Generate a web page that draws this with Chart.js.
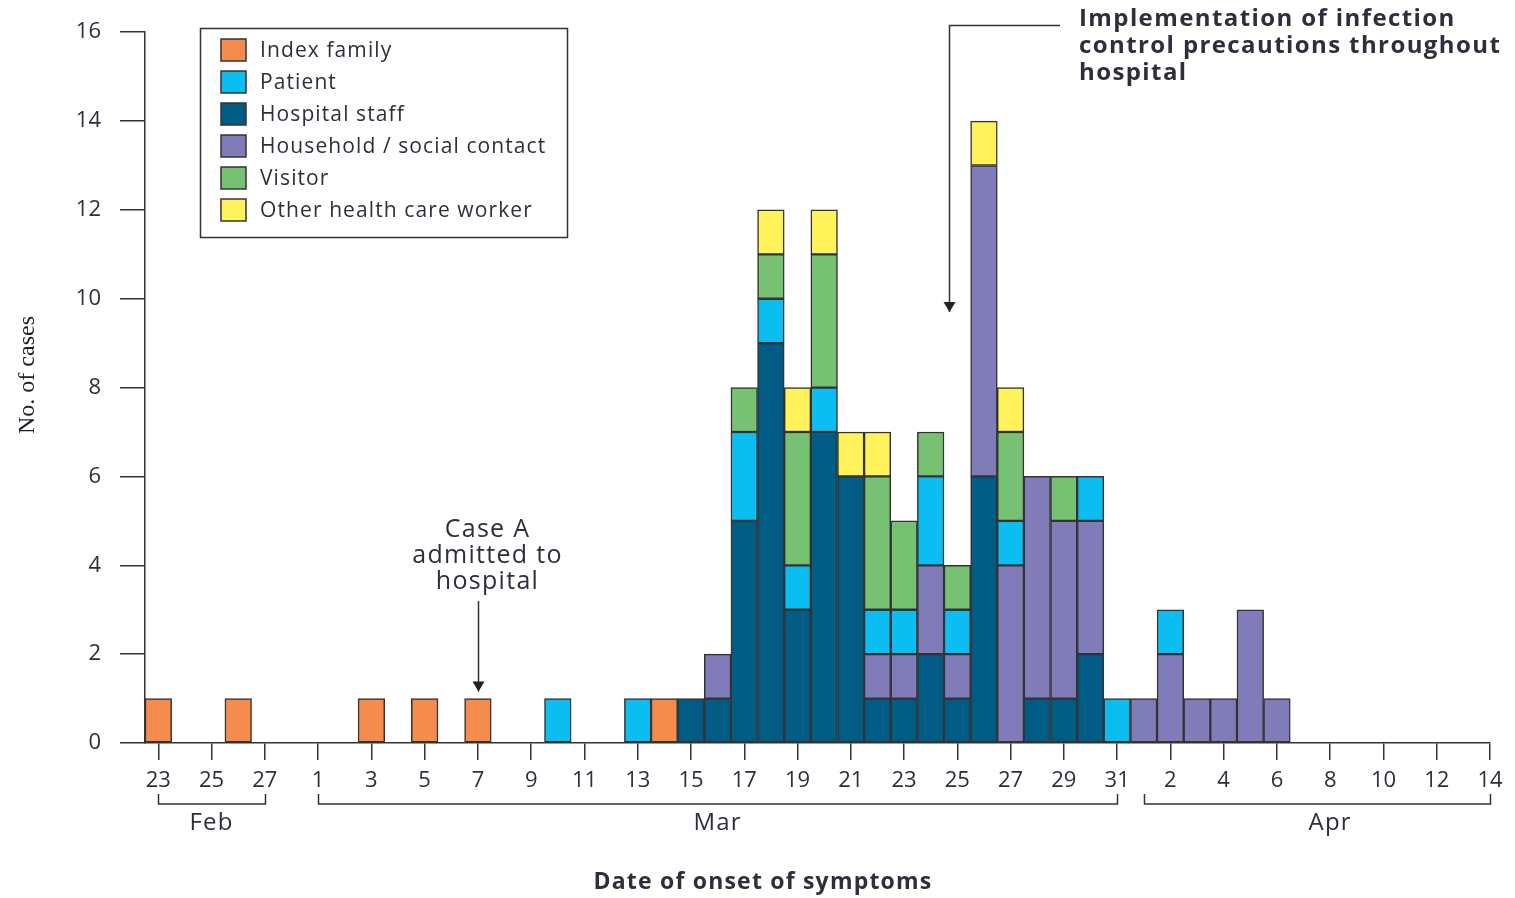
<!DOCTYPE html>
<html>
<head>
<meta charset="utf-8">
<script src="https://cdn.jsdelivr.net/npm/chart.js@4.4.0/dist/chart.umd.min.js"></script>
<style>
  html, body { margin: 0; padding: 0; background: #fff; }
</style>
</head>
<body>
<canvas id="epiCurve" width="1515" height="898"></canvas>
<script>
// one entry per day, Feb 23 .. Apr 14 (index 0 = Feb 23)
const dayLabels = [
  '23','24','25','26','27','28',
  '1','2','3','4','5','6','7','8','9','10','11','12','13','14','15','16','17','18','19','20',
  '21','22','23','24','25','26','27','28','29','30','31',
  '1','2','3','4','5','6','7','8','9','10','11','12','13','14'
];

// cases per day for each group
const indexFamily = [1,0,0,1,0,0, 0,0,1,0,1,0,1,0,0,0, 0,0,0,1,0,0,0,0,0,0, 0,0,0,0,0,0,0,0,0,0,0, 0,0,0,0,0,0,0,0,0,0,0,0,0,0];
const hospitalStaff = [0,0,0,0,0,0, 0,0,0,0,0,0,0,0,0,0, 0,0,0,0,1,1,5,9,3,7, 6,1,1,2,1,6,0,1,1,2,0, 0,0,0,0,0,0,0,0,0,0,0,0,0,0];
const household = [0,0,0,0,0,0, 0,0,0,0,0,0,0,0,0,0, 0,0,0,0,0,1,0,0,0,0, 0,1,1,2,1,7,4,5,4,3,0, 1,2,1,1,3,1,0,0,0,0,0,0,0,0];
const patient = [0,0,0,0,0,0, 0,0,0,0,0,0,0,0,0,1, 0,0,1,0,0,0,2,1,1,1, 0,1,1,2,1,0,1,0,0,1,1, 0,1,0,0,0,0,0,0,0,0,0,0,0,0];
const visitor = [0,0,0,0,0,0, 0,0,0,0,0,0,0,0,0,0, 0,0,0,0,0,0,1,1,3,3, 0,3,2,1,1,0,2,0,1,0,0, 0,0,0,0,0,0,0,0,0,0,0,0,0,0];
const otherHcw = [0,0,0,0,0,0, 0,0,0,0,0,0,0,0,0,0, 0,0,0,0,0,0,0,1,1,1, 1,1,0,0,0,1,1,0,0,0,0, 0,0,0,0,0,0,0,0,0,0,0,0,0,0];

const yTicks = [0, 2, 4, 6, 8, 10, 12, 14, 16];

// month brackets under the axis: first day, last day, day the label sits on
const monthSpans = [
  { name: 'Feb', from: 0, to: 4, at: 2 },
  { name: 'Mar', from: 6, to: 36, at: 21 },
  { name: 'Apr', from: 37, to: 50, at: 44 }
];

const ink = '#2e2e3c';
const edge = '#333333';
const sans = "'Open Sans', 'DejaVu Sans', sans-serif";

function series(label, values, color) {
  return {
    label: label,
    data: values.map((v, i) => ({ x: i, y: v || null })),
    backgroundColor: color,
    borderColor: edge,
    borderWidth: 1.5,
    borderSkipped: false,
    categoryPercentage: 1.0,
    barPercentage: 1.0
  };
}

// stacking order bottom -> top
const datasets = [
  series('Index family', indexFamily, '#f58b4c'),
  series('Hospital staff', hospitalStaff, '#005b85'),
  series('Household / social contact', household, '#807bb9'),
  series('Patient', patient, '#0bbdf0'),
  series('Visitor', visitor, '#76c172'),
  series('Other health care worker', otherHcw, '#fff25a')
];
const legendOrder = ['Index family', 'Patient', 'Hospital staff', 'Household / social contact', 'Visitor', 'Other health care worker'];

function downArrow(ctx, pts) {
  ctx.beginPath();
  ctx.moveTo(pts[0][0], pts[0][1]);
  for (let i = 1; i < pts.length; i++) ctx.lineTo(pts[i][0], pts[i][1]);
  ctx.stroke();
  const [tx, ty] = pts[pts.length - 1];
  ctx.beginPath();
  ctx.moveTo(tx - 6, ty - 10);
  ctx.lineTo(tx + 6, ty - 10);
  ctx.lineTo(tx, ty);
  ctx.closePath();
  ctx.fill();
}

const overlay = {
  id: 'overlay',
  afterDraw(chart) {
    const { ctx } = chart;
    const x = chart.scales.x, y = chart.scales.y;
    ctx.save();
    ctx.strokeStyle = edge;
    ctx.fillStyle = ink;
    ctx.lineWidth = 1.5;

    // legend box
    ctx.strokeRect(200.5, 28.5, 367, 209);
    ctx.font = '21px ' + sans;
    ctx.letterSpacing = '1.1px';
    ctx.textBaseline = 'middle';
    ctx.textAlign = 'left';
    legendOrder.forEach((name, k) => {
      const ds = chart.data.datasets.find(d => d.label === name);
      const cy = 50 + k * 32;
      ctx.fillStyle = ds.backgroundColor;
      ctx.fillRect(221, cy - 11, 25, 22);
      ctx.strokeRect(221, cy - 11, 25, 22);
      ctx.fillStyle = ink;
      ctx.fillText(name, 260, cy + 1);
    });

    // month brackets
    ctx.font = '24px ' + sans;
    ctx.letterSpacing = '1.2px';
    ctx.textAlign = 'center';
    monthSpans.forEach(m => {
      const x0 = Math.round(x.getPixelForValue(m.from)) + 0.5;
      const x1 = Math.round(x.getPixelForValue(m.to)) + 0.5;
      ctx.beginPath();
      ctx.moveTo(x0, 794);
      ctx.lineTo(x0, 804);
      ctx.lineTo(x1, 804);
      ctx.lineTo(x1, 794);
      ctx.stroke();
      ctx.fillText(m.name, x.getPixelForValue(m.at), 823);
    });

    // axis titles
    ctx.font = 'bold 23px ' + sans;
    ctx.letterSpacing = '1.2px';
    ctx.fillText('Date of onset of symptoms', 763, 882);
    ctx.save();
    ctx.translate(28, 375);
    ctx.rotate(-Math.PI / 2);
    ctx.letterSpacing = '0px';
    ctx.fillStyle = '#1e1e28';
    ctx.font = "24px 'Liberation Serif', 'DejaVu Serif', serif";
    ctx.fillText('No. of cases', 0, 0);
    ctx.restore();

    // Case A admitted
    const ax = Math.round(x.getPixelForValue(12)) + 0.5;
    ctx.font = '25px ' + sans;
    ctx.letterSpacing = '1.3px';
    ['Case A', 'admitted to', 'hospital'].forEach((t, k) => {
      ctx.fillText(t, ax + 9, 530 + k * 26);
    });
    ctx.fillStyle = '#222';
    downArrow(ctx, [[ax, 601], [ax, y.getPixelForValue(1) - 7]]);

    // infection control
    const ix = Math.round(x.getPixelForValue(29.7)) + 0.5;
    downArrow(ctx, [[1060, 25.5], [ix, 25.5], [ix, y.getPixelForValue(9.7)]]);
    ctx.fillStyle = ink;
    ctx.font = 'bold 24px ' + sans;
    ctx.letterSpacing = '1.4px';
    ctx.textAlign = 'left';
    ['Implementation of infection', 'control precautions throughout', 'hospital'].forEach((t, k) => {
      ctx.fillText(t, 1079, 19 + k * 27);
    });
    ctx.restore();
  }
};

Chart.defaults.font.family = sans;
Chart.defaults.color = ink;

new Chart(document.getElementById('epiCurve'), {
  type: 'bar',
  data: { datasets: datasets },
  options: {
    responsive: false,
    animation: false,
    devicePixelRatio: 1,
    layout: { padding: { top: 28, right: 25, left: 0, bottom: 0 } },
    plugins: { legend: { display: false }, tooltip: { enabled: false } },
    scales: {
      x: {
        type: 'linear',
        stacked: true,
        offset: false,
        min: -0.5,
        max: dayLabels.length - 1,
        afterBuildTicks: s => {
          s.ticks = dayLabels.map((_, i) => i).filter(i => i % 2 === 0).map(v => ({ value: v }));
        },
        afterFit: s => { s.height = 155; },
        ticks: {
          autoSkip: false,
          maxRotation: 0,
          padding: 8,
          font: { size: 22 },
          color: ink,
          callback: v => dayLabels[v]
        },
        grid: { offset: false, drawOnChartArea: false, drawTicks: true, tickLength: 17, color: edge, lineWidth: 1.5 },
        border: { display: true, color: edge, width: 1.5 }
      },
      y: {
        stacked: true,
        min: 0,
        max: 16,
        afterBuildTicks: s => { s.ticks = yTicks.map(v => ({ value: v })); },
        afterFit: s => { s.width = 145; },
        ticks: { padding: 19, font: { size: 22 }, color: ink },
        grid: { drawOnChartArea: false, drawTicks: true, tickLength: 25, color: edge, lineWidth: 1.5 },
        border: { display: true, color: edge, width: 1.5 }
      }
    }
  },
  plugins: [overlay]
});
</script>
</body>
</html>
